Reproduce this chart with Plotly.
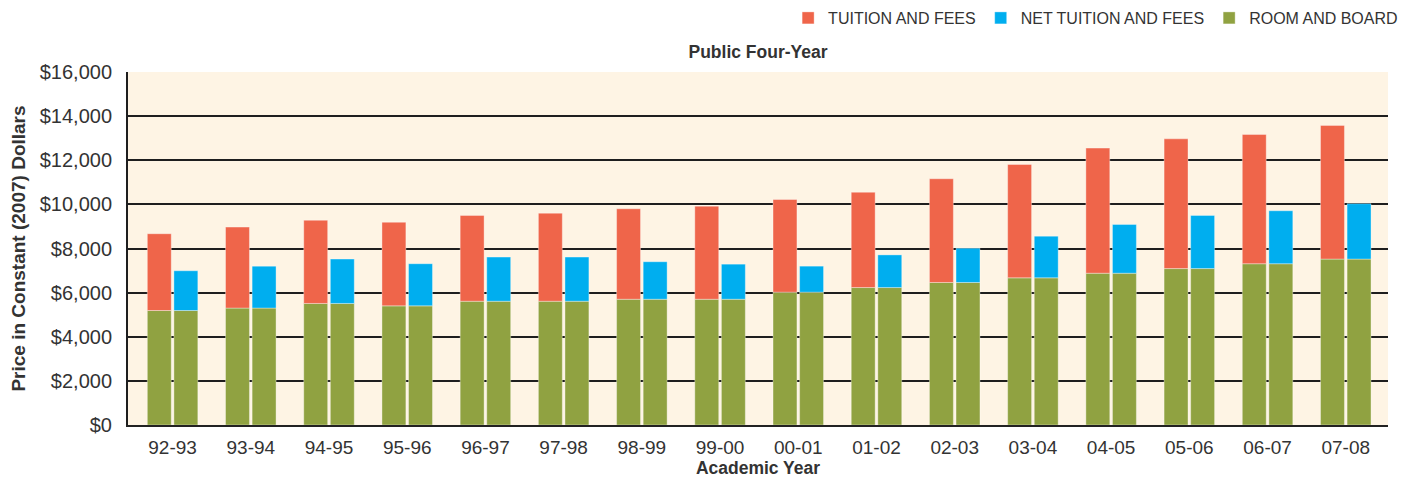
import plotly.graph_objects as go

years = ["92-93", "93-94", "94-95", "95-96", "96-97", "97-98", "98-99", "99-00",
         "00-01", "01-02", "02-03", "03-04", "04-05", "05-06", "06-07", "07-08"]
room_board = [5190, 5300, 5510, 5400, 5610, 5610, 5700, 5700,
              6020, 6230, 6460, 6670, 6880, 7090, 7310, 7520]
tuition_fees = [3480, 3670, 3770, 3790, 3890, 3990, 4100, 4220,
                4200, 4320, 4700, 5140, 5670, 5880, 5860, 6060]
net_tuition_fees = [1800, 1900, 2010, 1910, 2000, 2000, 1700, 1590,
                    1180, 1480, 1550, 1890, 2210, 2410, 2400, 2510]
y_ticks = [0, 2000, 4000, 6000, 8000, 10000, 12000, 14000, 16000]
y_tick_labels = ["$0", "$2,000", "$4,000", "$6,000", "$8,000", "$10,000",
                 "$12,000", "$14,000", "$16,000"]

C_TUI = "#EF654A"
C_NET = "#00AEEF"
C_RB = "#90A241"
FONT = "Liberation Sans, Arial, sans-serif"

fig = go.Figure()
line = dict(color="rgba(255,255,255,0.6)", width=0.6)
fig.add_trace(go.Bar(x=years, y=room_board, offsetgroup="a", marker_color=C_RB,
                     marker_line=line, name="ROOM AND BOARD", legendrank=3, showlegend=True))
fig.add_trace(go.Bar(x=years, y=tuition_fees, base=room_board, offsetgroup="a",
                     marker_color=C_TUI, marker_line=line, name="TUITION AND FEES", legendrank=1))
fig.add_trace(go.Bar(x=years, y=room_board, offsetgroup="b", marker_color=C_RB,
                     marker_line=line, name="ROOM AND BOARD", showlegend=False))
fig.add_trace(go.Bar(x=years, y=net_tuition_fees, base=room_board, offsetgroup="b",
                     marker_color=C_NET, marker_line=line, name="NET TUITION AND FEES", legendrank=2))

fig.update_layout(
    width=1405, height=475,
    margin=dict(l=120, r=25, t=64, b=58, autoexpand=False),
    paper_bgcolor="white",
    plot_bgcolor="#FEF4E4",
    barmode="group",
    bargap=0.32,
    bargroupgap=0.1,
    font=dict(family=FONT, color="#333333"),
    title=dict(text="<b>Public Four-Year</b>", x=0.5, xref="paper", xanchor="center",
               y=1 - 44 / 475, yref="container", yanchor="middle",
               font=dict(size=17.5, color="#333333", family=FONT)),
    legend=dict(orientation="h", x=1.012, xanchor="right", y=1 + 54 / 353, yref="paper",
                yanchor="middle", font=dict(size=16, color="#333333", family=FONT),
                traceorder="normal", itemwidth=30, tracegroupgap=0,
                bgcolor="rgba(0,0,0,0)"),
    showlegend=True,
)
fig.update_xaxes(
    type="category",
    range=[-0.57, 15.54],
    showgrid=False,
    showline=True, linecolor="#222222", linewidth=2,
    ticks="", ticklabelstandoff=4, tickfont=dict(size=19, color="#333333"),
    automargin=False,
    title=dict(text="<b>Academic Year</b>", font=dict(size=17.5, color="#333333"), standoff=5),
)
fig.update_yaxes(
    range=[0, 16000],
    tickvals=y_ticks, ticktext=y_tick_labels,
    showgrid=True, gridcolor="#1E1E1E", gridwidth=2,
    showline=True, linecolor="#1E1E1E", linewidth=2,
    zeroline=False, automargin=False,
    ticks="", ticklen=0, ticklabelstandoff=10,
    tickfont=dict(size=20, color="#333333"),
    title=dict(text="<b>Price in Constant (2007) Dollars</b>",
               font=dict(size=19, color="#333333"), standoff=10),
)

fig.write_html("out.html")
